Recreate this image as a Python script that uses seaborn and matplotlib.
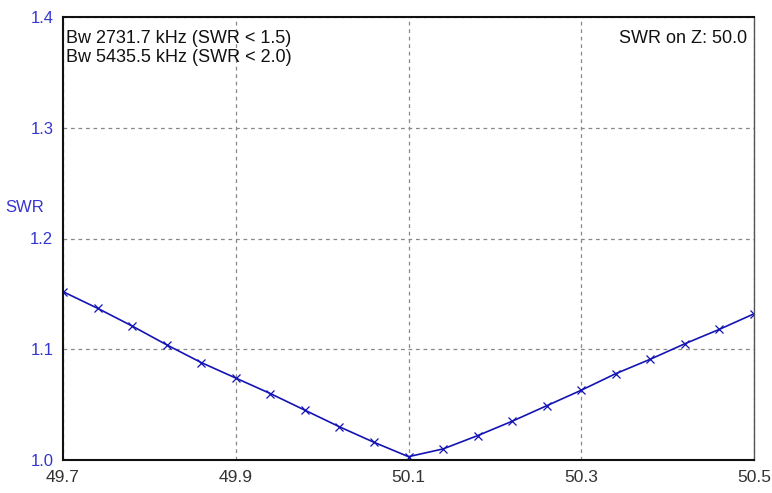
import numpy as np
import pandas as pd
import matplotlib
matplotlib.use("Agg")
import matplotlib.pyplot as plt
import seaborn as sns

# --- data ---
freq_mhz = [49.70, 49.74, 49.78, 49.82, 49.86, 49.90, 49.94, 49.98, 50.02, 50.06,
            50.10, 50.14, 50.18, 50.22, 50.26, 50.30, 50.34, 50.38, 50.42, 50.46, 50.50]
swr = [1.152, 1.137, 1.121, 1.104, 1.088, 1.074, 1.060, 1.045, 1.030, 1.016,
       1.003, 1.010, 1.022, 1.035, 1.049, 1.063, 1.078, 1.091, 1.105, 1.118, 1.132]
x_ticks = [49.7, 49.9, 50.1, 50.3, 50.5]
y_ticks = [1.0, 1.1, 1.2, 1.3, 1.4]
info_left = ["Bw 2731.7 kHz (SWR < 1.5)", "Bw 5435.5 kHz (SWR < 2.0)"]
info_right = "SWR on Z: 50.0"

df = pd.DataFrame({"freq": freq_mhz, "swr": swr})

sns.set_style("white")
plt.rcParams['font.family'] = ['Liberation Sans', 'DejaVu Sans']

fig = plt.figure(figsize=(7.72, 4.93), dpi=100)
ax = fig.add_axes([63 / 772, 33 / 493, (754 - 63) / 772, (460 - 17) / 493])

sns.lineplot(data=df, x="freq", y="swr", ax=ax, color="#1414b4", linewidth=1.2,
             marker="x", markersize=6, markeredgewidth=0.9, markeredgecolor="#1414b4")

ax.set_xlim(49.7, 50.5)
ax.set_ylim(1.0, 1.4)
ax.set_xticks(x_ticks)
ax.set_xticklabels([f"{v:.1f}" for v in x_ticks])
ax.set_yticks(y_ticks)
ax.set_yticklabels([f"{v:.1f}" for v in y_ticks])
ax.tick_params(axis="x", colors="#333333", labelsize=12.5, length=0, pad=7)
ax.tick_params(axis="y", colors="#3535d0", labelsize=12, length=0, pad=7)
ax.grid(True, linestyle=(0, (3, 3)), color="#888888", linewidth=0.9)
ax.set_xlabel("")
ax.set_ylabel("SWR", color="#3535d0", fontsize=12, rotation=0, va="center", ha="center")
ax.yaxis.set_label_coords(-0.056, 0.571)

for side in ["left", "bottom", "top"]:
    ax.spines[side].set_color("#111111")
    ax.spines[side].set_linewidth(1.5)
ax.spines["right"].set_color("#555555")
ax.spines["right"].set_linewidth(1.0)

ax.text(0.005, 0.97, "\n".join(info_left), transform=ax.transAxes, ha="left", va="top",
        fontsize=13, color="#111111", linespacing=1.1)
ax.text(0.99, 0.97, info_right, transform=ax.transAxes, ha="right", va="top",
        fontsize=13, color="#111111")

fig.savefig("out.png", dpi=100)
